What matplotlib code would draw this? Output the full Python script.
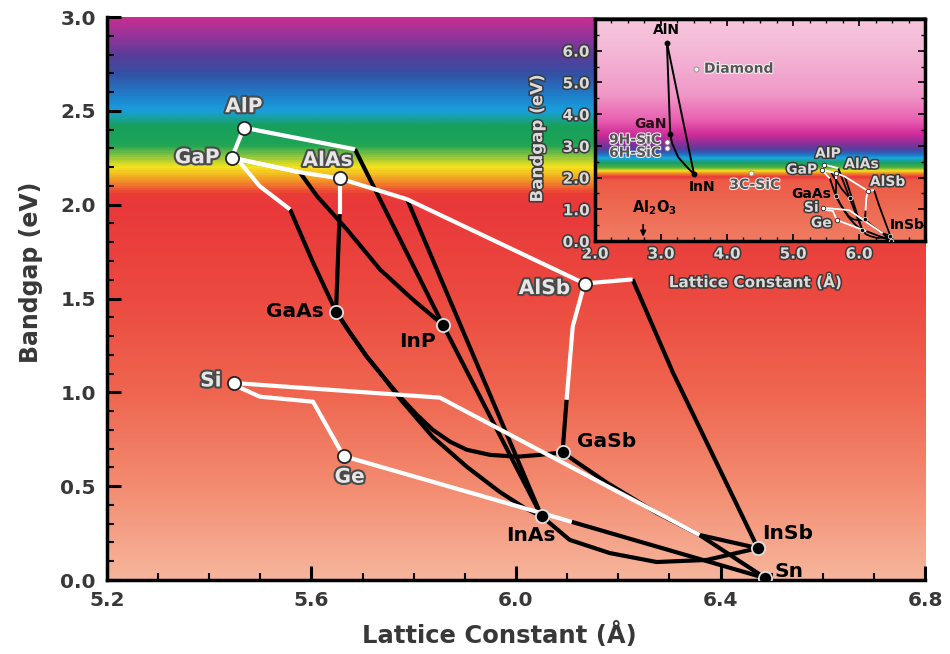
import matplotlib.pyplot as plt
import matplotlib.patheffects as pe
from matplotlib.colors import LinearSegmentedColormap
from matplotlib.ticker import MultipleLocator
import numpy as np

plt.rcParams['font.family'] = ['DejaVu Sans']
plt.rcParams['font.weight'] = 'bold'

# binary semiconductors: lattice constant (A) and bandgap (eV)
names = ['AlP', 'GaP', 'AlAs', 'GaAs', 'InP', 'AlSb', 'Si', 'Ge', 'GaSb', 'InAs', 'InSb', 'Sn']
lattice = [5.468, 5.444, 5.655, 5.648, 5.857, 6.134, 5.448, 5.663, 6.091, 6.050, 6.473, 6.488]
bandgap = [2.41, 2.25, 2.14, 1.43, 1.36, 1.58, 1.05, 0.66, 0.68, 0.34, 0.17, 0.01]
indirect = ['AlP', 'GaP', 'AlAs', 'AlSb', 'Si', 'Ge']

# alloy lines: endpoints by name, bend points as (A, eV)
AlP_GaP = ['AlP', 'GaP']
AlP_InP = ['AlP', (5.685, 2.295), 'InP']
GaP_AlAs = ['GaP', (5.577, 2.173), 'AlAs']
GaP_InP = ['GaP', (5.577, 2.173), (5.611, 2.045), (5.669, 1.869), (5.734, 1.655), (5.798, 1.495), 'InP']
GaP_GaAs = ['GaP', (5.460, 2.226), (5.499, 2.098), (5.558, 1.975), (5.603, 1.692), 'GaAs']
AlAs_GaAs = ['AlAs', (5.655, 1.949), 'GaAs']
AlAs_AlSb = ['AlAs', (5.787, 2.029), 'AlSb']
AlAs_InAs = [(5.787, 2.029), 'InAs']
InP_InAs = ['InP', 'InAs']
AlSb_InSb = ['AlSb', (6.228, 1.602), (6.307, 1.105), 'InSb']
AlSb_GaSb = ['AlSb', (6.111, 1.351), (6.099, 0.961), 'GaSb']
GaAs_GaSb = ['GaAs', (5.675, 1.319), (5.708, 1.191), (5.740, 1.084), (5.773, 0.977), (5.806, 0.881),
             (5.837, 0.801), (5.871, 0.737), (5.904, 0.694), (5.949, 0.667), (6.002, 0.657),
             (6.047, 0.667), 'GaSb']
GaAs_InAs = ['GaAs', (5.675, 1.319), (5.708, 1.191), (5.740, 1.084), (5.773, 0.966), (5.837, 0.763),
             (5.904, 0.603), (5.968, 0.470), (6.017, 0.384), 'InAs']
InAs_InSb = ['InAs', (6.105, 0.214), (6.183, 0.144), (6.275, 0.096), (6.373, 0.107), 'InSb']
GaSb_InSb = ['GaSb', (6.178, 0.518), (6.275, 0.358), (6.359, 0.240), 'InSb']
Si_Ge = ['Si', (5.460, 1.025), (5.499, 0.977), (5.603, 0.950), 'Ge']
Si_Sn = ['Si', (5.851, 0.972), (6.359, 0.240), 'Sn']
Ge_Sn = ['Ge', (6.109, 0.310), 'Sn']

alloy_lines = [AlP_GaP, AlP_InP, GaP_AlAs, GaP_InP, GaP_GaAs, AlAs_GaAs, AlAs_AlSb,
               AlAs_InAs, InP_InAs, AlSb_InSb, AlSb_GaSb, GaAs_GaSb, GaAs_InAs,
               InAs_InSb, GaSb_InSb, Si_Ge, Si_Sn, Ge_Sn]
# number of leading segments that are indirect (drawn white)
white_count = [1, 1, 2, 1, 3, 1, 2, 0, 0, 1, 2, 0, 0, 0, 0, 4, 2, 1]

# inset: nitrides and others
nitride_names = ['AlN', 'GaN', 'InN']
nitride_lattice = [3.09, 3.14, 3.50]
nitride_gap = [6.25, 3.37, 2.11]
GaN_InN = [(3.167, 3.09), (3.258, 2.65), (3.394, 2.33)]
other_names = ['Diamond', '9H-SiC', '6H-SiC', '3C-SiC']
other_lattice = [3.53, 3.09, 3.09, 4.36]
other_gap = [5.43, 3.13, 2.94, 2.15]
al2o3_lattice = 2.73

# label placement (pixels from the marker)
label_dx = [0, -12, -12, -12, -25, -14, -12, 6, 14, -11, 4, 9]
label_dy = [21, 0, 18, 0, -17, -5, 2, -21, 11, -19, 15, 7]
label_ha = ['center', 'right', 'center', 'right', 'center', 'right', 'right', 'center',
            'left', 'center', 'left', 'left']

xy = dict(zip(names, zip(lattice, bandgap)))
outline = [pe.withStroke(linewidth=3, foreground='#4a4a4a')]
outline_s = [pe.withStroke(linewidth=2.2, foreground='#3a3a3a')]


def resolve(seq):
    return [xy[p] if isinstance(p, str) else p for p in seq]


def draw_alloys(ax, lw):
    for line, nw in zip(alloy_lines, white_count):
        p = np.array(resolve(line))
        if nw < len(p) - 1:
            ax.plot(p[nw:, 0], p[nw:, 1], color='black', lw=lw, solid_capstyle='butt',
                    solid_joinstyle='round', zorder=3)
    for line, nw in zip(alloy_lines, white_count):
        p = np.array(resolve(line))
        if nw > 0:
            ax.plot(p[:nw + 1, 0], p[:nw + 1, 1], color='white', lw=lw, solid_capstyle='butt',
                    solid_joinstyle='round', zorder=4)


def draw_points(ax, ms, mew):
    for n, x, y in zip(names, lattice, bandgap):
        if n in indirect:
            ax.plot(x, y, 'o', ms=ms, mfc='white', mec='#222222', mew=mew, zorder=6)
        else:
            ax.plot(x, y, 'o', ms=ms, mfc='black', mec='#e0e0e0', mew=mew, zorder=6)


fig = plt.figure(figsize=(9.5, 6.54), dpi=100)
ax = fig.add_axes([0.1126, 0.1131, 0.8611, 0.8609])

# spectrum background
main_stops = [(0.0, '#f6b59c'), (0.5, '#f38b70'), (1.0, '#ef654f'), (1.5, '#ec4a40'),
              (2.0, '#e9383a'), (2.06, '#ea3d36'), (2.12, '#f28a2a'), (2.2, '#f6e41e'),
              (2.26, '#8cc43c'), (2.32, '#1ea456'), (2.42, '#17a05c'), (2.5, '#19a0dc'),
              (2.58, '#1f80cc'), (2.7, '#3450a4'), (2.8, '#5a3c98'), (2.9, '#94349a'),
              (3.0, '#c82e90')]
cmap = LinearSegmentedColormap.from_list('spec', [(v / 3.0, c) for v, c in main_stops])
ax.imshow(np.linspace(0, 3, 600).reshape(-1, 1), cmap=cmap, vmin=0, vmax=3, origin='lower',
          extent=[5.2, 6.8, 0, 3], aspect='auto', zorder=0)

draw_alloys(ax, 3.0)
draw_points(ax, 9.5, 1.3)

for n, x, y, dx, dy, ha in zip(names, lattice, bandgap, label_dx, label_dy, label_ha):
    t = ax.annotate(n, (x, y), xytext=(dx, dy), textcoords='offset pixels', ha=ha, va='center',
                    fontsize=14.5, fontweight='bold', zorder=7)
    if n in indirect:
        t.set_color('#e6e6e6')
        t.set_path_effects(outline)
    else:
        t.set_color('black')

ax.set_xlim(5.2, 6.8)
ax.set_ylim(0, 3.0)
ax.xaxis.set_major_locator(MultipleLocator(0.4))
ax.xaxis.set_minor_locator(MultipleLocator(0.1))
ax.yaxis.set_major_locator(MultipleLocator(0.5))
ax.yaxis.set_minor_locator(MultipleLocator(0.1))
ax.xaxis.set_major_formatter('{x:.1f}')
ax.yaxis.set_major_formatter('{x:.1f}')
for s in ['top', 'right']:
    ax.spines[s].set_visible(False)
for s in ['left', 'bottom']:
    ax.spines[s].set_linewidth(2.5)
ax.tick_params(which='both', direction='in', labelsize=14.5, labelcolor='#383838', pad=8)
ax.tick_params(which='major', length=10, width=2.2)
ax.tick_params(which='minor', length=5, width=1.5)
ax.set_xlabel('Lattice Constant (Å)', fontsize=17.5, fontweight='bold', color='#383838')
ax.set_ylabel('Bandgap (eV)', fontsize=17, fontweight='bold', color='#383838')
ax.xaxis.set_label_coords(0.48, -0.074)
ax.yaxis.set_label_coords(-0.078, 0.547)

# inset
ins = fig.add_axes([0.6263, 0.6315, 0.3474, 0.3395])
inset_stops = [(0.0, '#f07c62'), (1.9, '#ec5a46'), (2.0, '#e8393a'), (2.1, '#f07a2a'),
               (2.2, '#f8e020'), (2.3, '#50b040'), (2.45, '#1aa060'), (2.6, '#18a8e0'),
               (2.72, '#2070c0'), (2.87, '#5040a0'), (3.05, '#8a3098'), (3.35, '#d02c98'),
               (3.8, '#e860b0'), (4.6, '#f098c8'), (6.0, '#f4b8d6'), (7.0, '#f6c6dc')]
icmap = LinearSegmentedColormap.from_list('ispec', [(v / 7.0, c) for v, c in inset_stops])
ins.imshow(np.linspace(0, 7, 700).reshape(-1, 1), cmap=icmap, vmin=0, vmax=7, origin='lower',
           extent=[2.0, 7.0, 0, 7], aspect='auto', zorder=0)

draw_alloys(ins, 1.3)
draw_points(ins, 3.2, 0.6)

# nitride lines
nx = dict(zip(nitride_names, zip(nitride_lattice, nitride_gap)))
for a, b in [('AlN', 'GaN'), ('AlN', 'InN')]:
    ins.plot([nx[a][0], nx[b][0]], [nx[a][1], nx[b][1]], color='black', lw=1.4, zorder=3)
curve = np.array([nx['GaN']] + GaN_InN + [nx['InN']])
ins.plot(curve[:, 0], curve[:, 1], color='black', lw=1.4, zorder=3)
ins.plot(nitride_lattice, nitride_gap, 'o', ms=3.2, mfc='black', mec='black', zorder=6)
ins.plot(other_lattice, other_gap, 'o', ms=3.6, mfc='white', mec='#888888', mew=0.6, zorder=6)

ins_lab = dict(fontsize=10, fontweight='bold', va='center')
ins.annotate('AlN', nx['AlN'], xytext=(0, 13), textcoords='offset pixels', ha='center', color='black', **ins_lab)
ins.annotate('GaN', nx['GaN'], xytext=(-3, 10), textcoords='offset pixels', ha='right', color='#2a0a14', **ins_lab)
ins.annotate('InN', nx['InN'], xytext=(8, -13), textcoords='offset pixels', ha='center', color='black', **ins_lab)
other_dx = [8, -6, -6, 4]
other_dy = [0, 2, -5, -12]
other_ha = ['left', 'right', 'right', 'center']
for n, x, y, dx, dy, ha in zip(other_names, other_lattice, other_gap, other_dx, other_dy, other_ha):
    ins.annotate(n, (x, y), xytext=(dx, dy), textcoords='offset pixels', ha=ha, color='#555555',
                 path_effects=[pe.withStroke(linewidth=1.5, foreground='#f2f2f2')], **ins_lab)

inset_labels = ['AlP', 'GaP', 'AlAs', 'AlSb', 'GaAs', 'Si', 'Ge', 'InSb']
inset_dx = [4, -5, 8, 2, -5, -4, -5, 0]
inset_dy = [11, 0, 9, 9, 2, 0, -3, 11]
inset_ha = ['center', 'right', 'left', 'left', 'right', 'right', 'right', 'left']
for n, dx, dy, ha in zip(inset_labels, inset_dx, inset_dy, inset_ha):
    t = ins.annotate(n, xy[n], xytext=(dx, dy), textcoords='offset pixels', ha=ha, **ins_lab)
    if n in indirect:
        t.set_color('#dcdcdc')
        t.set_path_effects(outline_s)
    else:
        t.set_color('black')

ins.annotate('', xy=(al2o3_lattice, 0.05), xytext=(al2o3_lattice, 0.6),
             arrowprops=dict(arrowstyle='-|>', color='black', lw=1.2, mutation_scale=8))
ins.text(al2o3_lattice + 0.17, 1.05, 'Al$_2$O$_3$', fontsize=10.5, fontweight='bold', ha='center',
         va='center', color='black')

ins.set_xlim(2.0, 7.0)
ins.set_ylim(0, 7.0)
ins.set_xticks([2.0, 3.0, 4.0, 5.0, 6.0])
ins.xaxis.set_minor_locator(MultipleLocator(0.25))
ins.yaxis.set_minor_locator(MultipleLocator(0.5))
ins.set_yticks([0, 1, 2, 3, 4, 5, 6])
ins.xaxis.set_major_formatter('{x:.1f}')
ins.yaxis.set_major_formatter('{x:.1f}')
for s in ins.spines.values():
    s.set_linewidth(2.5)
ins.tick_params(which='both', direction='in', top=True, right=True, labelsize=11,
                labelcolor='#dadada', pad=4)
ins.tick_params(which='major', length=5, width=1.2)
ins.tick_params(which='minor', length=3, width=1)
for lab in ins.get_xticklabels() + ins.get_yticklabels():
    lab.set_path_effects(outline_s)
    lab.set_fontweight('bold')
ins.set_xlabel('Lattice Constant (Å)', fontsize=11, fontweight='bold', color='#dadada',
               path_effects=outline_s)
ins.set_ylabel('Bandgap (eV)', fontsize=12, fontweight='bold', color='#dadada',
               path_effects=outline_s)
ins.xaxis.set_label_coords(0.485, -0.145)
ins.yaxis.set_label_coords(-0.148, 0.46)

fig.savefig('out.png', dpi=100)
